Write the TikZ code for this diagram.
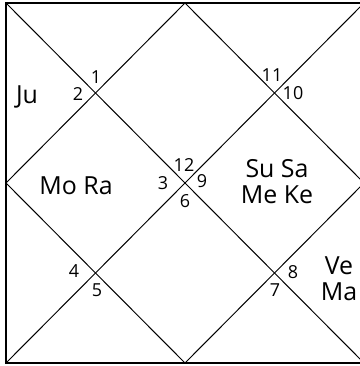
\documentclass[tikz,border=0pt]{standalone}
\usepackage{fontspec}
\setmainfont{Open Sans}
\usepackage{tikz}

\begin{document}
\begin{tikzpicture}[x=1bp,y=1bp,
    chartline/.style={line width=1pt},
    house/.style={inner sep=0pt, font=\fontsize{18}{18}\selectfont},
    planet/.style={inner sep=0pt, align=center, font=\fontsize{25}{26}\selectfont}]
    \clip (0,0) rectangle (360,366);

    % corners and side midpoints of the chart
    \coordinate (tl) at (6,363);
    \coordinate (tr) at (364,363);
    \coordinate (bl) at (6,3);
    \coordinate (br) at (364,3);
    \coordinate (tm) at (185,363);
    \coordinate (bm) at (185,3);
    \coordinate (lm) at (6,183);
    \coordinate (rm) at (364,183);

    \draw[line width=1.5pt] (tr) -- (tl) -- (bl) -- (br);
    \draw[chartline] (tl) -- (br);
    \draw[chartline] (bl) -- (tr);
    \draw[chartline] (tm) -- (rm) -- (bm) -- (lm) -- cycle;

    % house numbers
    \node[house] (h1) at (96,289) {1};
    \node[house] (h2) at (78,272) {2};
    \node[house] (h3) at (163,183) {3};
    \node[house] (h4) at (74,95) {4};
    \node[house] (h5) at (97,76) {5};
    \node[house] (h6) at (185,165) {6};
    \node[house] (h7) at (275,76) {7};
    \node[house] (h8) at (293,94) {8};
    \node[house] (h9) at (202,185) {9};
    \node[house] (h10) at (293,273) {10};
    \node[house] (h11) at (272,291) {11};
    \node[house] (h12) at (184,201) {12};

    % planets
    \node[planet] (ju) at (27,269) {Ju};
    \node[planet] (mora) at (76,180) {Mo Ra};
    \node[planet] (susa) at (277,184) {Su Sa\\Me Ke};
    \node[planet] (vema) at (339,87) {Ve\\Ma};
\end{tikzpicture}
\end{document}
